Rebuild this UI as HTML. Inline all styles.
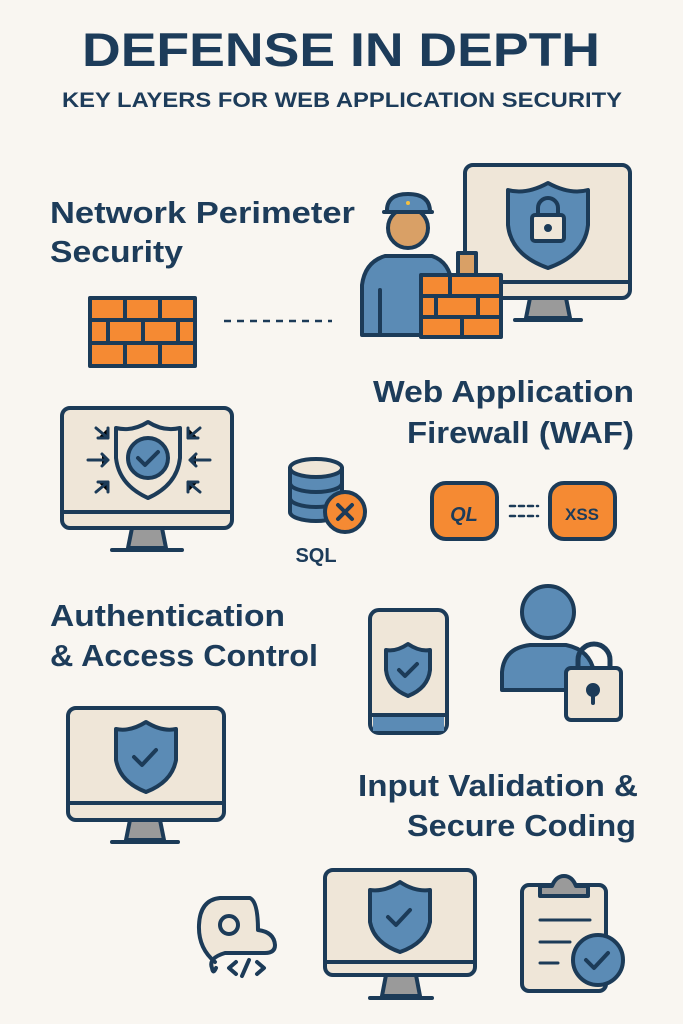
<!DOCTYPE html>
<html><head><meta charset="utf-8"><style>
html,body{margin:0;padding:0;background:#f9f6f1}
svg{display:block}
text{font-family:"Liberation Sans","DejaVu Sans",sans-serif;fill:#1d3c5a;font-weight:bold}
</style></head><body>
<svg width="683" height="1024" viewBox="0 0 683 1024" xmlns="http://www.w3.org/2000/svg">
<rect width="683" height="1024" fill="#f9f6f1"/>
<text x="82" y="66" font-size="47" textLength="518" lengthAdjust="spacingAndGlyphs">DEFENSE IN DEPTH</text>
<text x="62" y="107" font-size="21" textLength="560" lengthAdjust="spacingAndGlyphs">KEY LAYERS FOR WEB APPLICATION SECURITY</text>

<text x="50" y="223" font-size="31" textLength="305" lengthAdjust="spacingAndGlyphs">Network Perimeter</text>
<text x="50" y="262" font-size="31" textLength="133" lengthAdjust="spacingAndGlyphs">Security</text>
<text x="373" y="402" font-size="31" textLength="261" lengthAdjust="spacingAndGlyphs">Web Application</text>
<text x="407" y="443" font-size="31" textLength="227" lengthAdjust="spacingAndGlyphs">Firewall (WAF)</text>
<text x="50" y="626" font-size="31" textLength="235" lengthAdjust="spacingAndGlyphs">Authentication</text>
<text x="50" y="666" font-size="31" textLength="268" lengthAdjust="spacingAndGlyphs">&amp; Access Control</text>
<text x="358" y="796" font-size="31" textLength="280" lengthAdjust="spacingAndGlyphs">Input Validation &amp;</text>
<text x="407" y="836" font-size="31" textLength="229" lengthAdjust="spacingAndGlyphs">Secure Coding</text>

<g stroke="#1c3b58" stroke-width="4" stroke-linejoin="round" stroke-linecap="round">
<!-- monitor 1 -->
<rect x="465" y="165" width="165" height="133" rx="8" fill="#efe6d8"/>
<line x1="465" y1="282" x2="630" y2="282"/>
<path d="M530 298 L526 318 L570 318 L566 298Z" fill="#9a9a9a"/>
<line x1="515" y1="320" x2="581" y2="320"/>
<path d="M548 183 Q570 195 588 190 L588 225 Q585 255 548 268 Q511 255 508 225 L508 190 Q526 195 548 183Z" fill="#5b8bb5"/>
<rect x="532" y="215" width="32" height="26" rx="3" fill="#efe6d8"/>
<path d="M538 215 v-7 a10 10 0 0 1 20 0 v7" fill="none"/>
<circle cx="548" cy="228" r="2" fill="#1c3b58"/>
<!-- guard -->
<path d="M362 330 L362 285 Q365 262 385 256 L432 256 Q450 262 452 285 L452 335 L362 335Z" fill="#5b8bb5"/>
<line x1="380" y1="290" x2="380" y2="335"/>
<circle cx="408" cy="228" r="20" fill="#d9a066"/>
<path d="M387 212 Q386 194 408 194 Q430 194 430 212 Z" fill="#5b8bb5"/>
<line x1="384" y1="212" x2="432" y2="212"/>
<circle cx="408" cy="203" r="2" fill="#f5c040" stroke="none"/>
<!-- brick on guard -->
<rect x="458" y="253" width="18" height="22" fill="#d9a066"/>
<rect x="421" y="275" width="80" height="62" fill="#f58a33"/>
<line x1="421" y1="296" x2="501" y2="296"/><line x1="421" y1="317" x2="501" y2="317"/>
<line x1="450" y1="275" x2="450" y2="296"/><line x1="436" y1="296" x2="436" y2="317"/><line x1="478" y1="296" x2="478" y2="317"/><line x1="462" y1="317" x2="462" y2="337"/>
<!-- firewall -->
<rect x="90" y="298" width="105" height="68" fill="#f58a33"/>
<line x1="90" y1="320" x2="195" y2="320"/><line x1="90" y1="343" x2="195" y2="343"/>
<line x1="125" y1="298" x2="125" y2="320"/><line x1="160" y1="298" x2="160" y2="320"/>
<line x1="108" y1="320" x2="108" y2="343"/><line x1="143" y1="320" x2="143" y2="343"/><line x1="178" y1="320" x2="178" y2="343"/>
<line x1="125" y1="343" x2="125" y2="366"/><line x1="160" y1="343" x2="160" y2="366"/>
<line x1="224" y1="321" x2="332" y2="321" stroke-width="2.5" stroke-dasharray="7 6" stroke-linecap="butt"/>
<!-- monitor 2 -->
<rect x="62" y="408" width="170" height="120" rx="8" fill="#efe6d8"/>
<line x1="62" y1="512" x2="232" y2="512"/>
<path d="M132 528 L128 548 L166 548 L162 528Z" fill="#9a9a9a"/>
<line x1="112" y1="550" x2="182" y2="550"/>
<path d="M148 422 Q164 432 180 428 L180 458 Q177 485 148 498 Q119 485 116 458 L116 428 Q132 432 148 422Z" fill="#efe6d8"/>
<circle cx="148" cy="458" r="20" fill="#5b8bb5"/>
<path d="M138 458 l7 7 l13 -13" fill="none"/>
<g stroke-width="3"><path d="M96 428 l12 10 M98 438 h10 v-10"/><path d="M200 428 l-12 10 M198 438 h-10 v-10"/>
<path d="M88 460 h20 M102 454 l6 6 l-6 6"/><path d="M210 460 h-20 M196 454 l-6 6 l6 6"/>
<path d="M96 492 l12 -10 M98 482 h10 v10"/><path d="M200 492 l-12 -10 M198 482 h-10 v10"/></g>
<!-- db -->
<path d="M290 468 v44 a26 9 0 0 0 52 0 v-44" fill="#5b8bb5"/>
<ellipse cx="316" cy="468" rx="26" ry="9" fill="#efe6d8"/>
<path d="M290 483 a26 9 0 0 0 52 0 M290 498 a26 9 0 0 0 52 0" fill="none"/>
<circle cx="345" cy="512" r="20" fill="#f58a33"/>
<path d="M338 505 l14 14 M352 505 l-14 14"/>
<!-- pills -->
<rect x="432" y="483" width="65" height="56" rx="14" fill="#f58a33"/>
<rect x="550" y="483" width="65" height="56" rx="14" fill="#f58a33"/>
<g stroke-width="2.5"><line x1="510" y1="506" x2="538" y2="506" stroke-dasharray="5 4"/><line x1="510" y1="516" x2="538" y2="516" stroke-dasharray="5 4"/></g>
<!-- phone -->
<rect x="370" y="610" width="77" height="123" rx="9" fill="#efe6d8"/>
<line x1="370" y1="715" x2="447" y2="715"/>
<rect x="373" y="717" width="71" height="14" fill="#5b8bb5" stroke="none"/>
<path d="M408 644 Q420 652 430 650 L430 670 Q428 688 408 696 Q388 688 386 670 L386 650 Q396 652 408 644Z" fill="#5b8bb5"/>
<path d="M399 670 l6 6 l12 -12" fill="none"/>
<!-- user -->
<circle cx="548" cy="612" r="26" fill="#5b8bb5"/>
<path d="M502 690 v-18 Q504 648 530 645 L566 645 Q590 650 594 672 v18Z" fill="#5b8bb5"/>
<path d="M578 670 v-10 a16 16 0 0 1 32 0 v10" fill="none" stroke-width="5"/>
<rect x="566" y="668" width="55" height="52" rx="5" fill="#efe6d8"/>
<circle cx="593" cy="690" r="5" fill="#1c3b58"/><line x1="593" y1="692" x2="593" y2="703"/>
<!-- monitor 3 -->
<rect x="68" y="708" width="156" height="112" rx="8" fill="#efe6d8"/>
<line x1="68" y1="803" x2="224" y2="803"/>
<path d="M130 820 L126 840 L164 840 L160 820Z" fill="#9a9a9a"/>
<line x1="112" y1="842" x2="178" y2="842"/>
<path d="M146 722 Q162 732 176 729 L176 760 Q172 782 146 792 Q120 782 116 760 L116 729 Q130 732 146 722Z" fill="#5b8bb5"/>
<path d="M134 757 l8 8 l14 -15" fill="none"/>
<!-- monitor 4 -->
<rect x="325" y="870" width="150" height="105" rx="8" fill="#efe6d8"/>
<line x1="325" y1="962" x2="475" y2="962"/>
<path d="M386 975 L382 996 L420 996 L416 975Z" fill="#9a9a9a"/>
<line x1="370" y1="998" x2="432" y2="998"/>
<path d="M400 882 Q415 892 430 890 L430 922 Q426 943 400 952 Q374 943 370 922 L370 890 Q385 892 400 882Z" fill="#5b8bb5"/>
<path d="M388 917 l8 8 l14 -15" fill="none"/>
<!-- cloud code -->
<path d="M215 962 Q198 948 199 925 Q200 900 220 898 L250 898 Q258 902 258 930 Q274 932 275 945 Q275 953 265 953 L225 953 Q208 958 212 968 Q213 975 216 968" fill="#efe6d8"/>
<circle cx="229" cy="925" r="9" fill="none"/>
<path d="M236 962 l-7 6 l7 6 M242 976 l7 -16 M257 962 l7 6 l-7 6" fill="none"/>
<!-- clipboard -->
<rect x="522" y="885" width="84" height="106" rx="7" fill="#efe6d8"/>
<path d="M540 896 v-10 h12 q4 -10 12 -10 q8 0 12 10 h12 v10Z" fill="#9a9a9a"/>
<line x1="540" y1="920" x2="590" y2="920" stroke-width="3"/>
<line x1="540" y1="942" x2="570" y2="942" stroke-width="3"/>
<line x1="540" y1="963" x2="558" y2="963" stroke-width="3"/>
<circle cx="598" cy="960" r="25" fill="#5b8bb5"/>
<path d="M586 960 l8 8 l14 -15" fill="none"/>
</g>
<text x="464" y="521" text-anchor="middle" font-size="20" font-style="italic">QL</text>
<text x="582" y="520" text-anchor="middle" font-size="17">XSS</text>
<text x="316" y="562" text-anchor="middle" font-size="20">SQL</text>
</svg>
</body></html>
